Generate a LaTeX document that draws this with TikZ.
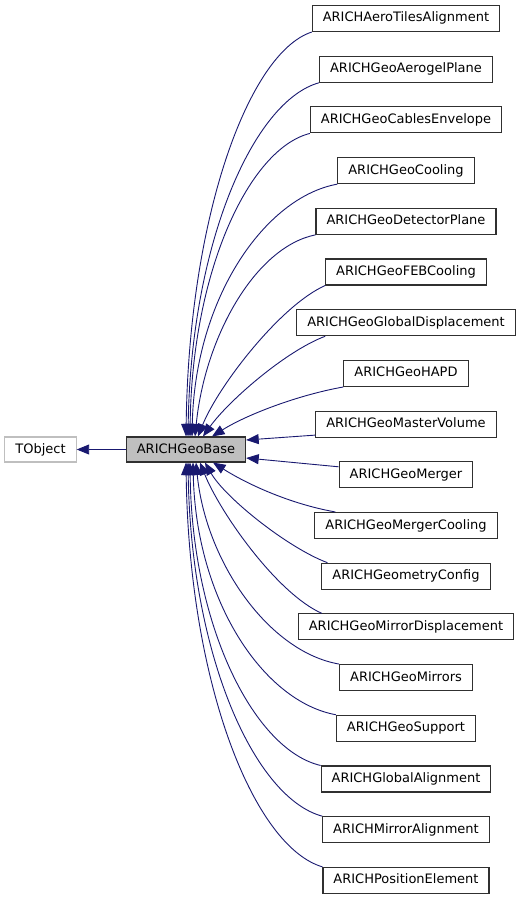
\documentclass[tikz,border=0pt]{standalone}
\usepackage{fontspec}
\setmainfont{DejaVu Sans}
\usetikzlibrary{arrows.meta}
\definecolor{edgeblue}{HTML}{191970}
\definecolor{basefill}{HTML}{BFBFBF}
\definecolor{boxline}{HTML}{303030}
\definecolor{greyline}{HTML}{BFBFBF}
\begin{document}
\begin{tikzpicture}[x=1pt,y=-1pt,
  cls/.style={draw=boxline, line width=1.1pt, fill=white, minimum height=26pt,
    inner xsep=10.5pt, inner ysep=0pt, text height=9.5pt, text depth=2.5pt,
    font=\fontsize{13}{15}\selectfont},
  basebox/.style={cls, fill=basefill, minimum height=25pt},
  extbox/.style={cls, draw=greyline, minimum height=25pt},
  inh/.style={draw=edgeblue, line width=0.9pt, -{Triangle[length=12.5pt,width=10pt]}}]
\useasboundingbox (0,0) rectangle (523,899);
\node[extbox] (tobj) at (40.5,449.5) {TObject};
\node[basebox] (base) at (186,449.5) {ARICHGeoBase};
\node[cls] (c0) at (406,18.5) {ARICHAeroTilesAlignment};
\node[cls] (c1) at (406,69.2) {ARICHGeoAerogelPlane};
\node[cls] (c2) at (406,119.9) {ARICHGeoCablesEnvelope};
\node[cls] (c3) at (406,170.6) {ARICHGeoCooling};
\node[cls] (c4) at (406,221.3) {ARICHGeoDetectorPlane};
\node[cls] (c5) at (406,272.0) {ARICHGeoFEBCooling};
\node[cls] (c6) at (406,322.7) {ARICHGeoGlobalDisplacement};
\node[cls] (c7) at (406,373.4) {ARICHGeoHAPD};
\node[cls] (c8) at (406,424.1) {ARICHGeoMasterVolume};
\node[cls] (c9) at (406,474.8) {ARICHGeoMerger};
\node[cls] (c10) at (406,525.5) {ARICHGeoMergerCooling};
\node[cls] (c11) at (406,576.2) {ARICHGeometryConfig};
\node[cls] (c12) at (406,626.9) {ARICHGeoMirrorDisplacement};
\node[cls] (c13) at (406,677.6) {ARICHGeoMirrors};
\node[cls] (c14) at (406,728.3) {ARICHGeoSupport};
\node[cls] (c15) at (406,779.0) {ARICHGlobalAlignment};
\node[cls] (c16) at (406,829.7) {ARICHMirrorAlignment};
\node[cls] (c17) at (406,880.4) {ARICHPositionElement};
% base -> TObject
\draw[inh] (base) -- (tobj);
% upper children
\draw[inh] (c0.south west) .. controls +(-62,20) and +(3,-223) .. ([xshift=0pt]base.north);
\draw[inh] (c1.south west) .. controls +(-65,18) and +(3,-195) .. ([xshift=2pt]base.north);
\draw[inh] (c2.south west) .. controls +(-60,15) and +(2,-167) .. ([xshift=4pt]base.north);
\draw[inh] (c3.south west) .. controls +(-72,13) and +(3,-139) .. ([xshift=6pt]base.north);
\draw[inh] (c4.south west) .. controls +(-60,12) and +(10,-100) .. ([xshift=9pt]base.north);
\draw[inh] (c5.south west) .. controls +(-45,20) and +(20,-50) .. ([xshift=12pt]base.north);
\draw[inh] ([xshift=29pt]c6.south west) .. controls +(-40,15) and +(25,-35) .. ([xshift=17pt]base.north);
\draw[inh] (c7.south west) .. controls +(-45,8) and +(35,-22) .. ([xshift=26pt]base.north);
% side children
\draw[inh] ([yshift=-11pt]c8.west) -- ([yshift=9.5pt]base.east);
\draw[inh] ([yshift=8pt]c9.west) -- ([yshift=-8.5pt]base.east);
% lower children
\draw[inh] ([xshift=21pt]c10.north west) .. controls +(-45,-8) and +(35,22) .. ([xshift=27pt]base.south);
\draw[inh] ([xshift=6pt]c11.north west) .. controls +(-40,-15) and +(20,35) .. ([xshift=19pt]base.south);
\draw[inh] ([xshift=24pt]c12.north west) .. controls +(-45,-20) and +(20,50) .. ([xshift=14pt]base.south);
\draw[inh] (c13.north west) .. controls +(-70,-12) and +(10,100) .. ([xshift=10pt]base.south);
\draw[inh] (c14.north west) .. controls +(-72,-13) and +(3,139) .. ([xshift=7pt]base.south);
\draw[inh] (c15.north west) .. controls +(-65,-15) and +(2,167) .. ([xshift=4pt]base.south);
\draw[inh] (c16.north west) .. controls +(-67,-18) and +(3,195) .. ([xshift=2pt]base.south);
\draw[inh] (c17.north west) .. controls +(-68,-20) and +(3,223) .. ([xshift=0pt]base.south);
\end{tikzpicture}
\end{document}
